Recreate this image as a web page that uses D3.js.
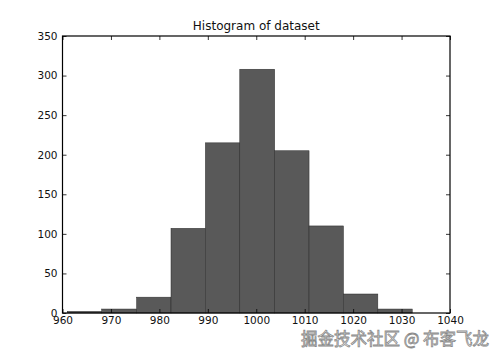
<html><head><meta charset="UTF-8"><title>Histogram of dataset</title>
<script src="https://cdn.jsdelivr.net/npm/d3@7/dist/d3.min.js"></script>
<style>
	body { margin:0; background:#fff; }
	svg  { display:block; font-family:"DejaVu Sans", sans-serif; }
</style>
</head><body>
<svg id="chart" width="500" height="358"></svg>
<script>
// histogram bins (edges) and counts
var binEdges=[961.0,968.1,975.3,982.4,989.5,996.6,1003.8,1010.9,1018.0,1025.1,1032.2];
var counts=[2,5,20,107,215,308,205,110,24,5];
var xTicks=[960,970,980,990,1000,1010,1020,1030,1040];
var yTicks=[0,50,100,150,200,250,300,350];
var title='Histogram of dataset';
var watermark='掘金技术社区 @ 布客飞龙';

var svg=d3.select('#chart');
var L=62.5, R=450, T=36, B=313;
var x=d3.scaleLinear().domain([960,1040]).range([L,R]);
var y=d3.scaleLinear().domain([0,350]).range([B,T]);

// bars
svg.append('g').selectAll('rect').data(counts).enter().append('rect')
	.attr('x',function(d,i){return x(binEdges[i]);})
	.attr('y',function(d){return y(d);})
	.attr('width',function(d,i){return x(binEdges[i+1])-x(binEdges[i]);})
	.attr('height',function(d){return y(0)-y(d);})
	.attr('fill','#595959').attr('stroke','#2a2a2a').attr('stroke-width',0.5);

// axes, ticks pointing inwards like matplotlib classic
function axisStyle(g){
	g.select('.domain').remove();
	g.selectAll('text').attr('fill','#111').style('font-size','10.5px').style('font-family','"DejaVu Sans", sans-serif');
	g.selectAll('line').attr('stroke','#000').attr('stroke-width',0.8);
}
svg.append('g').attr('transform','translate(0,'+B+')')
	.call(d3.axisBottom(x).tickValues(xTicks).tickSizeInner(-4).tickSizeOuter(0).tickPadding(4).tickFormat(d3.format('d')))
	.call(axisStyle);
svg.append('g').attr('transform','translate(0,'+T+')')
	.call(d3.axisTop(x).tickValues(xTicks).tickSizeInner(-4).tickSizeOuter(0).tickFormat(''))
	.call(axisStyle);
svg.append('g').attr('transform','translate('+L+',0)')
	.call(d3.axisLeft(y).tickValues(yTicks).tickSizeInner(-4).tickSizeOuter(0).tickPadding(5).tickFormat(d3.format('d')))
	.call(axisStyle);
svg.append('g').attr('transform','translate('+R+',0)')
	.call(d3.axisRight(y).tickValues(yTicks).tickSizeInner(-4).tickSizeOuter(0).tickFormat(''))
	.call(axisStyle);

// frame
svg.append('rect').attr('x',L).attr('y',T).attr('width',R-L).attr('height',B-T)
	.attr('fill','none').attr('stroke','#000').attr('stroke-width',1.2);

svg.append('text').attr('x',(L+R)/2).attr('y',30).attr('text-anchor','middle')
	.style('font-size','12px').attr('fill','#111').text(title);

// watermark
svg.append('text').attr('x',489).attr('y',345).attr('text-anchor','end')
	.style('font-family','"Noto Sans CJK SC", sans-serif').style('font-size','16.5px')
	.attr('fill','#f4f4f4').attr('stroke','#8a8a8a').attr('stroke-width',0.8)
	.text(watermark);
</script>
</body></html>
